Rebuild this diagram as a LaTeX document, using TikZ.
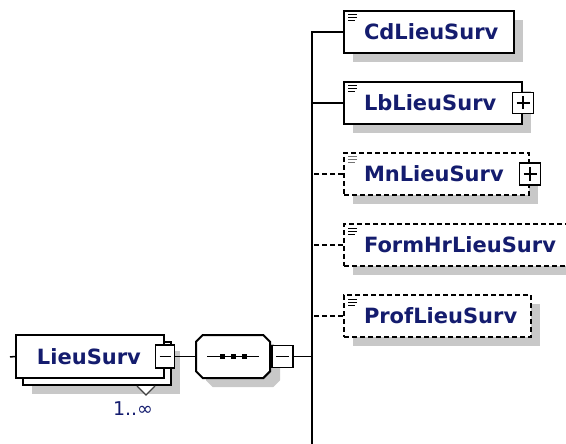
\documentclass[tikz,border=0pt]{standalone}
\usepackage{fontspec}
\setmainfont{DejaVu Sans}
\usetikzlibrary{positioning,shapes.misc,shadows}
\definecolor{elemtext}{RGB}{20,28,110}
\definecolor{shadowgray}{RGB}{200,200,200}

\begin{document}
\begin{tikzpicture}[x=1pt, y=-1pt,
  every node/.style = {font=\fontsize{21}{24}\selectfont\bfseries, text=elemtext},
  elem/.style = {draw, fill=white, line width=2pt, minimum height=42pt,
    inner xsep=20pt, inner ysep=0pt, align=left, anchor=north west},
  shade/.style = {drop shadow={shadow xshift=9pt, shadow yshift=-9pt,
    fill=shadowgray, opacity=1}},
  leaf/.style = {elem, shade, path picture={
    \foreach \d/\l in {4/9,7/9,10/7}
      \draw[line width=1pt, solid, #1] ([xshift=4pt,yshift=-\d pt]path picture bounding box.north west) -- ++(\l pt,0);}},
  leaf/.default = black,
  opt/.style = {dash pattern=on 5pt off 3pt},
  toggle/.style = {draw, fill=white, line width=1.6pt, minimum width=20pt,
    minimum height=22pt, inner sep=0pt},
  minusbox/.style = {toggle, path picture={
    \draw[line width=1.4pt] ([xshift=4pt]path picture bounding box.west) -- ([xshift=-4pt]path picture bounding box.east);}},
  plusbox/.style = {toggle, path picture={
    \draw[line width=1.4pt] ([xshift=4pt]path picture bounding box.west) -- ([xshift=-4pt]path picture bounding box.east);
    \draw[line width=1.4pt] ([yshift=-4pt]path picture bounding box.north) -- ([yshift=4pt]path picture bounding box.south);}},
  conn/.style = {draw, line width=1.8pt},
  ]
  \useasboundingbox (0,0) rectangle (566,444);
  \clip (0,0) rectangle (566,444);

  % root element, repeated
  \node[elem, shade, minimum width=148pt, minimum height=43pt] (lieuback) at (22,341) {};
  \node[elem, minimum width=148pt, minimum height=43pt, text width=106pt] (lieu) at (15,334) {LieuSurv};
  \node[minusbox, minimum width=19pt, minimum height=23pt] (lieutog) at (lieu.east) {};
  \draw[line width=1.4pt, black!75, fill=white]
    ([xshift=-35pt]lieuback.south east) -- ([xshift=-26pt,yshift=-9pt]lieuback.south east)
    -- ([xshift=-17pt]lieuback.south east);
  \node[font=\fontsize{19}{22}\selectfont, anchor=north] (card)
    at ([xshift=-39pt,yshift=-12pt]lieuback.south east) {1..∞};
  \coordinate (lieuin) at (10,357);
  \draw[conn, line width=1.5pt] (lieuin) -- (lieu.west);

  % sequence
  \node[chamfered rectangle, chamfered rectangle xsep=11pt, chamfered rectangle ysep=11pt,
    draw, fill=white, line width=2pt, minimum width=74pt, minimum height=43pt,
    drop shadow={shadow xshift=10pt, shadow yshift=-9pt, fill=shadowgray, opacity=1}]
    (seq) at (233,356.5) {};
  \draw[line width=1.8pt] ([xshift=-26pt]seq.center) -- ([xshift=26pt]seq.center);
  \fill[black] ([xshift=-13.5pt,yshift=-2.5pt]seq.center) rectangle +(5pt,5pt);
  \fill[black] ([xshift=-2.5pt,yshift=-2.5pt]seq.center) rectangle +(5pt,5pt);
  \fill[black] ([xshift=8.5pt,yshift=-2.5pt]seq.center) rectangle +(5pt,5pt);
  \node[minusbox, minimum width=21pt, anchor=west] (seqtog) at (seq.east) {};
  \draw[conn, line width=1.5pt] (lieutog.east) -- (seq.west);

  % children
  \node[leaf, text width=130pt] (cd) at (343,10) {CdLieuSurv};
  \node[leaf, text width=138pt, below=27pt of cd.south west, anchor=north west] (lb) {LbLieuSurv};
  \node[leaf=black!55, opt, text width=145pt, below=27pt of lb.south west, anchor=north west] (mn) {MnLieuSurv};
  \node[leaf, opt, text width=200pt, below=27pt of mn.south west, anchor=north west] (form) {FormHrLieuSurv};
  \node[leaf, opt, text width=147pt, below=27pt of form.south west, anchor=north west] (prof) {ProfLieuSurv};
  \node[plusbox, minimum width=21pt, minimum height=21pt] (lbtog) at (lb.east) {};
  \node[plusbox, minimum width=21pt, minimum height=22pt] (mntog) at (mn.east) {};

  % spine and connectors
  \coordinate (spinebot) at (312,444);
  \draw[conn, line width=2.2pt] (cd.west) -| (spinebot);
  \draw[conn, line width=1.5pt] (seqtog.east) -- (seqtog.east -| spinebot);
  \draw[conn] (lb.west) -- (lb.west -| spinebot);
  \draw[conn, opt] (mn.west) -- (mn.west -| spinebot);
  \draw[conn, opt] (form.west) -- (form.west -| spinebot);
  \draw[conn, opt] (prof.west) -- (prof.west -| spinebot);
\end{tikzpicture}
\end{document}
